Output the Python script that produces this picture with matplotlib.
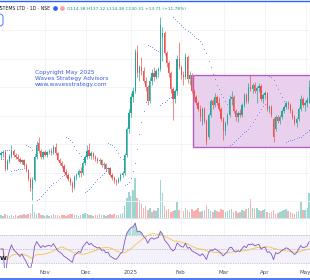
import numpy as np
import pandas as pd
import matplotlib
matplotlib.use("Agg")
import matplotlib.pyplot as plt
from matplotlib.patches import Rectangle, FancyBboxPatch
from matplotlib.lines import Line2D

# daily candles (open, high, low, close)
opens = [62, 64, 65, 48, 56, 61, 66, 62, 60, 58, 55, 57, 52, 47, 38, 28, 37, 60, 74, 66,
         60, 65, 62, 65, 66, 64, 70, 64, 57, 54, 51, 45, 42, 38, 34, 30, 40, 42, 46, 44,
         54, 60, 67, 61, 64, 60, 58, 56, 57, 52, 53, 48, 49, 42, 39, 36, 35, 38, 42, 44,
         62, 88, 104, 120, 126, 165, 144, 150, 146, 136, 130, 116, 136, 144, 140, 146, 148, 180, 184, 164,
         154, 144, 128, 118, 126, 158, 150, 142, 140, 160, 138, 142, 126, 120, 114, 108, 96, 108, 96, 80,
         102, 116, 112, 120, 114, 108, 98, 86, 94, 102, 118, 120, 106, 100, 104, 102, 112, 122, 116, 130,
         128, 132, 126, 129, 131, 118, 122, 124, 108, 110, 98, 88, 100, 96, 100, 106, 110, 114, 112, 106,
         100, 94, 98, 108, 118, 112, 114, 114.38]
highs = [66, 67, 67, 58, 63, 72, 68, 64, 63, 60, 58, 58, 54, 48, 40, 40, 62, 76, 80, 68,
         66, 67, 66, 68, 69, 72, 74, 65, 59, 56, 53, 48, 44, 40, 36, 42, 44, 48, 50, 56,
         62, 72, 74, 66, 65, 62, 60, 59, 58, 55, 54, 50, 50, 44, 41, 38, 40, 44, 46, 64,
         90, 108, 124, 130, 168, 172, 152, 160, 150, 140, 132, 140, 148, 150, 148, 150, 200, 190, 186, 166,
         156, 146, 130, 128, 162, 175, 152, 146, 164, 162, 146, 144, 128, 122, 116, 112, 110, 110, 98, 104,
         118, 118, 124, 122, 120, 110, 100, 96, 104, 122, 126, 122, 108, 106, 108, 114, 124, 124, 134, 142,
         134, 135, 131, 134, 133, 124, 126, 125, 112, 112, 100, 102, 102, 102, 108, 112, 116, 116, 114, 108,
         102, 100, 110, 122, 120, 116, 120, 137.12]
lows = [58, 60, 46, 47, 54, 59, 60, 58, 56, 54, 53, 50, 45, 36, 26, 17, 36, 58, 64, 58,
        58, 61, 60, 63, 62, 63, 62, 56, 52, 49, 44, 40, 36, 32, 25, 28, 37, 40, 40, 42,
        52, 58, 59, 58, 58, 56, 54, 53, 50, 48, 46, 44, 41, 37, 34, 32, 34, 36, 40, 42,
        60, 84, 100, 115, 124, 140, 136, 142, 134, 126, 112, 114, 132, 136, 138, 140, 146, 156, 162, 150,
        140, 124, 97, 114, 122, 148, 138, 132, 138, 134, 132, 124, 116, 112, 106, 96, 92, 94, 72, 78,
        100, 108, 110, 112, 106, 96, 77, 82, 92, 100, 112, 104, 96, 95, 100, 100, 110, 114, 114, 126,
        124, 124, 114, 125, 116, 114, 118, 106, 104, 100, 75, 86, 94, 93, 98, 104, 108, 108, 104, 98,
        92, 90, 96, 106, 110, 106, 110, 114.38]
closes = [64, 65, 48, 56, 61, 66, 62, 60, 58, 55, 57, 52, 47, 38, 29, 37, 60, 72, 66, 60,
          65, 62, 65, 66, 64, 70, 64, 57, 54, 51, 45, 42, 38, 34, 29, 40, 42, 46, 44, 54,
          60, 66, 61, 64, 60, 58, 56, 57, 52, 53, 48, 49, 42, 39, 36, 35, 38, 42, 44, 62,
          88, 104, 120, 126, 165, 144, 150, 146, 136, 130, 116, 136, 144, 140, 146, 148, 192, 184, 164, 154,
          144, 128, 118, 126, 158, 150, 142, 140, 160, 138, 142, 126, 120, 114, 108, 100, 108, 96, 76, 102,
          116, 112, 120, 114, 108, 98, 86, 94, 102, 118, 120, 106, 100, 104, 102, 112, 122, 116, 130, 128,
          132, 126, 129, 131, 118, 122, 124, 108, 110, 102, 80, 100, 96, 100, 106, 110, 114, 112, 106, 100,
          94, 98, 108, 118, 112, 114, 117, 130.31]
volume = [3, 2, 4, 3, 2, 3, 2, 3, 2, 3, 3, 4, 3, 4, 5, 14, 6, 4, 5, 3,
          3, 2, 3, 2, 3, 4, 3, 3, 2, 3, 3, 2, 3, 4, 4, 3, 3, 2, 3, 4,
          5, 4, 3, 3, 2, 3, 3, 4, 3, 3, 2, 3, 4, 3, 4, 3, 3, 4, 5, 12,
          20, 26, 22, 28, 40, 20, 18, 14, 10, 12, 8, 10, 6, 8, 7, 10, 38, 25, 12, 8,
          9, 6, 7, 8, 16, 8, 10, 7, 10, 8, 6, 9, 7, 8, 10, 6, 7, 8, 13, 9,
          7, 6, 8, 7, 6, 9, 8, 6, 7, 8, 9, 6, 7, 5, 6, 8, 7, 9, 10, 19,
          10, 9, 10, 8, 7, 8, 9, 6, 5, 6, 8, 4, 5, 6, 7, 8, 9, 7, 6, 5,
          4, 6, 7, 17, 8, 8, 10, 25]

month_labels = ["Nov", "Dec", "2025", "Feb", "Mar", "Apr", "May"]
month_pos = [21, 40.5, 62, 85.7, 106.2, 125.7, 145.3]

box_start, box_low, box_high = 91.4, 70, 142

UP = "#26a69a"
DOWN = "#ef5350"

df = pd.DataFrame({"open": opens, "high": highs, "low": lows, "close": closes, "vol": volume})
x = np.arange(len(df))
up = df["close"] >= df["open"]
cols = np.where(up, UP, DOWN)


def parabolic_sar(h, l, step=0.02, max_af=0.2):
    n = len(h)
    sar = np.zeros(n)
    trend = 1
    af = step
    ep = h[0]
    sar[0] = l[0]
    for i in range(1, n):
        s = sar[i - 1] + af * (ep - sar[i - 1])
        if trend == 1:
            s = min(s, l[i - 1], l[max(i - 2, 0)])
            if l[i] < s:
                trend, s, ep, af = -1, ep, l[i], step
            elif h[i] > ep:
                ep = h[i]
                af = min(af + step, max_af)
        else:
            s = max(s, h[i - 1], h[max(i - 2, 0)])
            if h[i] > s:
                trend, s, ep, af = 1, ep, h[i], step
            elif l[i] < ep:
                ep = l[i]
                af = min(af + step, max_af)
        sar[i] = s
    return sar


sar = parabolic_sar(df["high"].values, df["low"].values)

delta = df["close"].diff().fillna(0)
gain = delta.clip(lower=0).ewm(alpha=1 / 14, adjust=False).mean()
loss = (-delta.clip(upper=0)).ewm(alpha=1 / 14, adjust=False).mean()
rsi = (100 - 100 / (1 + gain / loss.replace(0, np.nan))).fillna(50)
rsi_ma = rsi.rolling(14, min_periods=1).mean()

fig = plt.figure(figsize=(3.1, 2.8), dpi=100)
fig.patch.set_facecolor("white")

ax = fig.add_axes([0, 1 - 218 / 280, 1, 216 / 280])
vax = ax.twinx()
rax = fig.add_axes([0, 1 - 268 / 280, 1, 49 / 280])

for a in (ax, vax, rax):
    a.set_xlim(-0.48, 147.4)
    for s in a.spines.values():
        s.set_visible(False)
    a.tick_params(length=0, labelleft=False, labelright=False, labelbottom=False)

# grid
ax.set_yticks([16 + 28.5 * k for k in range(7)])
ax.set_xticks(month_pos)
ax.grid(True, color="#f0f3fa", lw=0.6)
ax.set_axisbelow(True)
vax.set_yticks([])
rax.set_xticks(month_pos)
rax.set_yticks([])
rax.grid(True, axis="x", color="#f0f3fa", lw=0.6)
ax.spines["bottom"].set_visible(True)
ax.spines["bottom"].set_color("#d9dce3")
ax.spines["bottom"].set_linewidth(0.6)

# volume
vax.bar(x, df["vol"], width=0.75, color=cols, alpha=0.45, lw=0)
vax.set_ylim(0, 216)

# box
ax.add_patch(Rectangle((box_start, box_low), 200, box_high - box_low,
                       facecolor="#e1bee7", alpha=0.7, edgecolor="#9c27b0", lw=1.0, zorder=1))

# candles
ax.vlines(x, df["low"], df["high"], colors=cols, lw=0.5, zorder=3)
body_h = (df["close"] - df["open"]).abs().clip(lower=0.8)
ax.bar(x, body_h, bottom=np.minimum(df["open"], df["close"]), width=0.62,
       color=cols, lw=0, zorder=4)

# parabolic sar dots
ax.scatter(x, sar, s=0.35, color="#5b7cfa", lw=0, zorder=5)
ax.set_ylim(-1, 215)
vax.set_zorder(ax.get_zorder() - 1)
ax.patch.set_visible(False)

fig.text(35 / 310, 1 - 70 / 280, "Copyright May 2025\nWaves Strategy Advisors\nwww.wavesstrategy.com",
         fontsize=4.2, color="#3a5bd9", va="top", ha="left", linespacing=1.2, zorder=6)

# rsi pane
rax.set_ylim(22.9, 92.9)
rax.axhspan(30, 70, color="#7e57c2", alpha=0.08, lw=0)
for lv in (70, 50, 30):
    rax.axhline(lv, color="#9598a1", lw=0.5, ls=(0, (1, 1.5)))
rax.fill_between(x, 70, rsi, where=rsi > 70, interpolate=True, color="#26a69a", alpha=0.35, lw=0)
rax.plot(x, rsi_ma, color="#f5c542", lw=0.6)
rax.plot(x, rsi, color="#7e57c2", lw=0.6)

rax.tick_params(labelbottom=True, pad=1.5, labelsize=4.0, labelcolor="#4a4e59")
rax.set_xticklabels(month_labels)

# header
fig.text(-0.01, 1 - 8.5 / 280, "YSTEMS LTD · 1D · NSE", fontsize=3.3, color="#131722", va="center")
fig.add_artist(Line2D([55 / 310], [1 - 8 / 280], marker="o", ms=2.4, color="#2962ff", lw=0))
fig.add_artist(Line2D([61.5 / 310], [1 - 8 / 280], marker="o", ms=2.4, color="#f7a1ab", lw=0))
fig.text(67 / 310, 1 - 8.5 / 280, "O114.38 H137.12 L114.38 C130.31 +13.71 (+11.78%)",
         fontsize=3.2, color="#089981", va="center")
fig.patches.append(FancyBboxPatch((-4 / 310, 1 - 26 / 280), 7 / 310, 12 / 280,
                                  boxstyle="round,pad=0,rounding_size=0.01",
                                  transform=fig.transFigure, fill=False, ec="#2962ff", lw=0.6))
fig.text(0.0, 1 - 258 / 280, "W", fontsize=4.5, fontweight="bold", color="#131722", va="center")

fig.add_artist(Line2D([0, 1], [0.998, 0.998], color="#2962ff", lw=1.0))
fig.add_artist(Line2D([0, 1], [0.003, 0.003], color="#2962ff", lw=1.2))

fig.savefig("out.png", dpi=100)
